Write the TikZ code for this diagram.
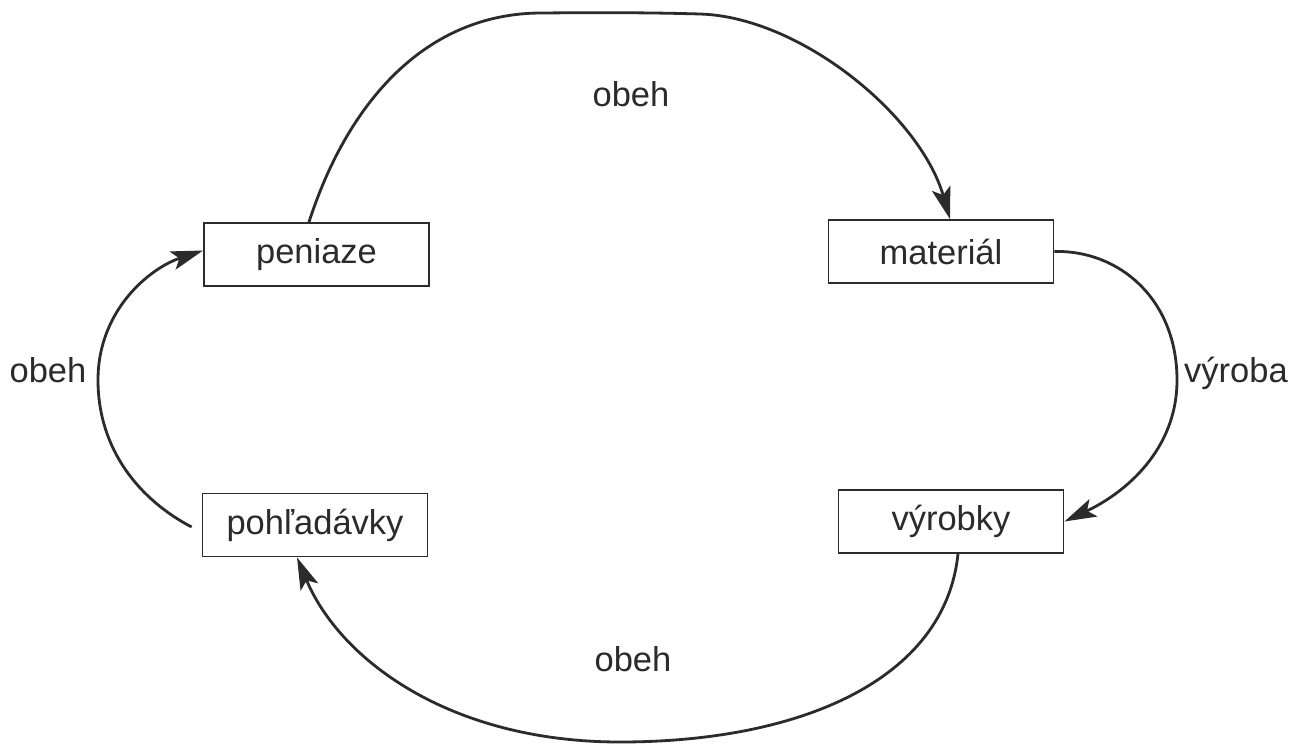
\documentclass[tikz,border=0pt]{standalone}
\usepackage{fontspec}
\setmainfont{Liberation Sans}
\usetikzlibrary{arrows.meta}
\definecolor{ink}{HTML}{2B2B2B}
\tikzset{
  box/.style={draw=ink, line width=1.8pt, minimum width=225pt, minimum height=63pt, inner sep=0pt, text=ink, font=\fontsize{34.5}{40}\selectfont},
  lbl/.style={text=ink, font=\fontsize{34.5}{40}\selectfont, anchor=base, inner sep=0pt},
  flow/.style={draw=ink, line width=2.8pt, -{Stealth[length=32pt,width=19pt,inset=7pt]}}
}
\begin{document}
\begin{tikzpicture}[x=1pt,y=-1pt]
\useasboundingbox[fill=white] (0,0) rectangle (1302,747);
\node[box] (pen) at (316.5,254.5) {peniaze};
\node[box] (mat) at (941,251.5) {materiál};
\node[box] (poh) at (315,525) {pohľadávky};
\node[box] (vyr) at (951,521.5) {výrobky};

\node[lbl] (l1) at (631,106) {obeh};
\node[lbl] (l2) at (1236,382) {výroba};
\node[lbl] (l3) at (633,671) {obeh};
\node[lbl] (l4) at (48,382) {obeh};

\draw[flow] ([xshift=-7.5pt]pen.north) .. controls (345,110) and (420,14) .. (540,13)
  .. controls (600,12.5) and (650,12.5) .. (700,14)
  .. controls (800,17) and (920,115) .. ([xshift=9pt]mat.north);
\draw[flow] (mat.east) .. controls (1120,250) and (1177,300) .. (1177,380)
  .. controls (1177,450) and (1125,493) .. (vyr.east);
\draw[flow] ([xshift=7pt]vyr.south) .. controls (945,680) and (800,742) .. (620,742)
  .. controls (450,742) and (340,660) .. ([xshift=-18pt]poh.south);
\draw[flow] ([xshift=-10pt,yshift=-2pt]poh.west) .. controls (140,500) and (98,450) .. (98,380)
  .. controls (98,310) and (150,268) .. ([yshift=4pt]pen.west);
\end{tikzpicture}
\end{document}
